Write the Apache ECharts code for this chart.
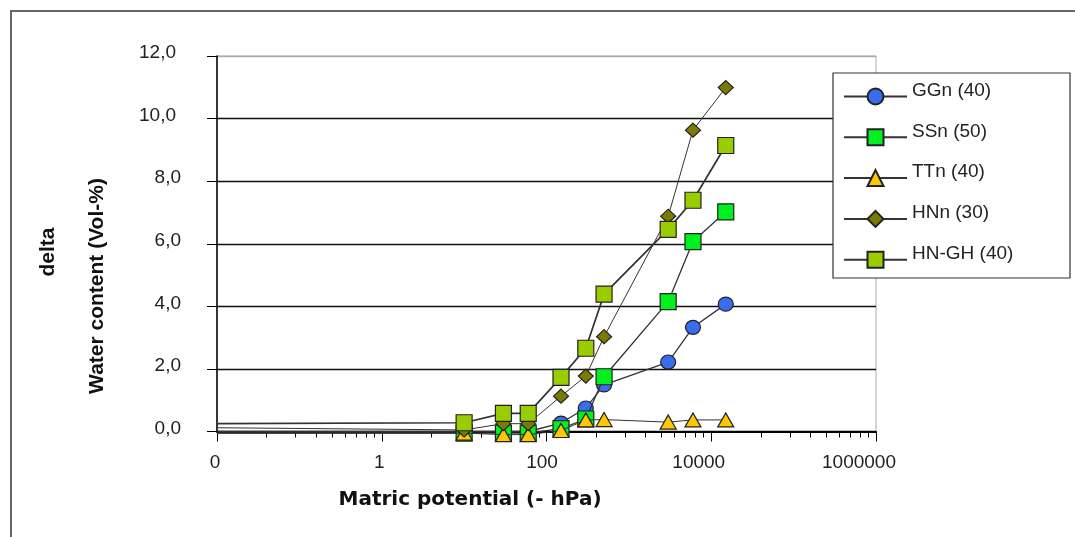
<!DOCTYPE html>
<html><head><meta charset="utf-8">
<script src="https://cdn.jsdelivr.net/npm/echarts@6/dist/echarts.min.js"></script>
<style>html,body{margin:0;padding:0;background:#fff}#c{width:1075px;height:537px}</style>
</head><body><div id="c"></div>
<script>
// ---- data ----
const AXIS_MIN = 0.01, AXIS_MAX = 1000000;
const pressure = [0, 10, 30, 60, 150, 300, 500, 3000, 6000, 15000]; // matric potential (-hPa); 0 drawn at axis start
const seriesNames = ['GGn (40)', 'SSn (50)', 'TTn (40)', 'HNn (30)', 'HN-GH (40)'];
const GGn  = [0.00, 0.00, 0.00, 0.00, 0.27, 0.75, 1.49, 2.22, 3.33, 4.07];
const SSn  = [-0.05, -0.05, -0.05, -0.05, 0.09, 0.40, 1.75, 4.15, 6.07, 7.02];
const TTn  = [-0.05, -0.05, -0.10, -0.10, 0.03, 0.37, 0.38, 0.30, 0.37, 0.37];
const HNn  = [0.12, 0.05, 0.25, 0.25, 1.13, 1.77, 3.03, 6.88, 9.63, 10.99];
const HNGH = [0.25, 0.28, 0.58, 0.58, 1.73, 2.66, 4.39, 6.46, 7.39, 9.14];
const xTickLabels = ['0', '1', '100', '10000', '1000000'];
const yTickLabels = ['0,0', '2,0', '4,0', '6,0', '8,0', '10,0', '12,0'];
const xMajorTicks = [0.01, 1, 100, 10000];
const minorFactors = [4, 9, 16, 25, 36, 49, 64, 81];

const seriesValues = [GGn, SSn, TTn, HNn, HNGH];
const styles = [
  {symbol: 'circle',   size: [15, 14], color: '#3a6cf0', lw: 1.3},
  {symbol: 'rect',     size: [16, 16], color: '#00f020', lw: 1.3},
  {symbol: 'triangle', size: [16, 14], color: '#ffc800', lw: 1},
  {symbol: 'diamond',  size: [15, 14], color: '#7b7b00', lw: 1},
  {symbol: 'rect',     size: [16, 16], color: '#9acd00', lw: 1.7}
];
const minorTickValues = [];
xMajorTicks.forEach(m => minorFactors.forEach(f => minorTickValues.push(m * f)));

function buildData(vals) {
  return pressure.map((p, i) => p === 0
    ? {value: [AXIS_MIN, vals[i]], symbol: 'none'}
    : [p, vals[i]]);
}

const FONT = '"Liberation Sans", Arial, sans-serif';
const xRich = {
  l0: {padding: [0, 4, 0, 0], fontSize: 19, fontFamily: FONT, color: '#222'},
  l1: {padding: [0, 5, 0, 0], fontSize: 19, fontFamily: FONT, color: '#222'},
  l2: {padding: [0, 9, 0, 0], fontSize: 19, fontFamily: FONT, color: '#222'},
  l3: {padding: [0, 25, 0, 0], fontSize: 19, fontFamily: FONT, color: '#222'},
  l4: {padding: [0, 34, 0, 0], fontSize: 19, fontFamily: FONT, color: '#222'}
};
const yRich = {
  s: {padding: [0, 0, 6, 0], fontSize: 19, fontFamily: FONT, color: '#222'},
  w: {padding: [0, 5, 6, 0], fontSize: 19, fontFamily: FONT, color: '#222'}
};

const grid = {left: 217, right: 199, top: 56, bottom: 105.5};
const option = {
  backgroundColor: '#fff',
  animation: false,
  grid: [
    Object.assign({show: true, borderColor: '#aaa', borderWidth: 1, backgroundColor: 'transparent'}, grid),
    Object.assign({show: false}, grid)
  ],
  xAxis: [
    {
      type: 'log', logBase: 100, min: AXIS_MIN, max: AXIS_MAX, gridIndex: 0, position: 'bottom',
      axisLine: {show: true, lineStyle: {color: '#000', width: 2}},
      axisTick: {show: true, length: 10, inside: false, lineStyle: {color: '#000', width: 1}},
      splitLine: {show: false},
      axisLabel: {
        margin: 22,
        formatter: v => {
          const i = Math.round(Math.log10(v) / 2) + 1;
          return '{l' + i + '|' + xTickLabels[i] + '}';
        },
        rich: xRich
      }
    },
    {
      type: 'log', logBase: 100, min: AXIS_MIN, max: AXIS_MAX, gridIndex: 1, position: 'bottom',
      axisLine: {show: false},
      axisLabel: {show: false},
      splitLine: {show: false},
      axisTick: {show: true, length: 6, inside: false, customValues: minorTickValues,
                 lineStyle: {color: '#000', width: 1}}
    }
  ],
  yAxis: [
    {
      type: 'value', min: 0, max: 12, interval: 2, gridIndex: 0,
      axisLine: {show: true, lineStyle: {color: '#000', width: 1.5}},
      axisTick: {show: true, length: 10, inside: false, lineStyle: {color: '#000', width: 1}},
      splitLine: {show: true, lineStyle: {color: ['#000', '#111', '#111', '#111', '#111', '#111', '#aaa'], width: 1.3}},
      axisLabel: {
        margin: 36,
        formatter: v => {
          const t = yTickLabels[Math.round(v / 2)];
          return (t.length > 3 ? '{w|' : '{s|') + t + '}';
        },
        rich: yRich
      }
    },
    {type: 'value', min: 0, max: 12, gridIndex: 1, show: false}
  ],
  legend: {
    show: true, orient: 'vertical', left: 843, top: 81, padding: 0,
    itemWidth: 63, itemHeight: 20, itemGap: 16.3, z: 20,
    data: seriesNames,
    formatter: name => '{t|' + name + '}',
    textStyle: {fontSize: 19, fontFamily: FONT, color: '#222',
      rich: {t: {fontSize: 19, fontFamily: FONT, color: '#222', padding: [0, 0, 12, 0]}}}
  },
  graphic: [
    {type: 'polyline', z: 1, shape: {points: [[11, 537], [11, 11], [1075, 11]]},
     style: {stroke: '#666', lineWidth: 2, fill: null}},
    {type: 'rect', z: 15, shape: {x: 833, y: 73, width: 237, height: 205},
     style: {fill: '#fff', stroke: '#333', lineWidth: 1.2}},
    {type: 'text', z: 5, x: 48, y: 252, rotation: Math.PI / 2,
     style: {text: 'delta', font: 'bold 21px ' + FONT, fill: '#111', align: 'center', verticalAlign: 'middle'}},
    {type: 'text', z: 5, x: 97, y: 286, rotation: Math.PI / 2,
     style: {text: 'Water content (Vol-%)', font: 'bold 21px ' + FONT, fill: '#111', align: 'center', verticalAlign: 'middle'}},
    {type: 'text', z: 5, x: 470, y: 500,
     style: {text: 'Matric potential (- hPa)', font: 'bold 20px "DejaVu Sans", sans-serif', fill: '#111', align: 'center', verticalAlign: 'middle'}}
  ],
  series: seriesNames.map((name, k) => ({
    name: name, type: 'line', xAxisIndex: 0, yAxisIndex: 0,
    data: buildData(seriesValues[k]),
    symbol: styles[k].symbol, symbolSize: styles[k].size,
    showAllSymbol: true, clip: false,
    lineStyle: {color: '#333', width: styles[k].lw},
    itemStyle: {color: styles[k].color, borderColor: '#222', borderWidth: 1.2},
    emphasis: {disabled: true},
    z: 3 + k
  }))
};
const chart = echarts.init(document.getElementById('c'), null, {renderer: 'canvas'});
chart.setOption(option);
</script>
</body></html>
